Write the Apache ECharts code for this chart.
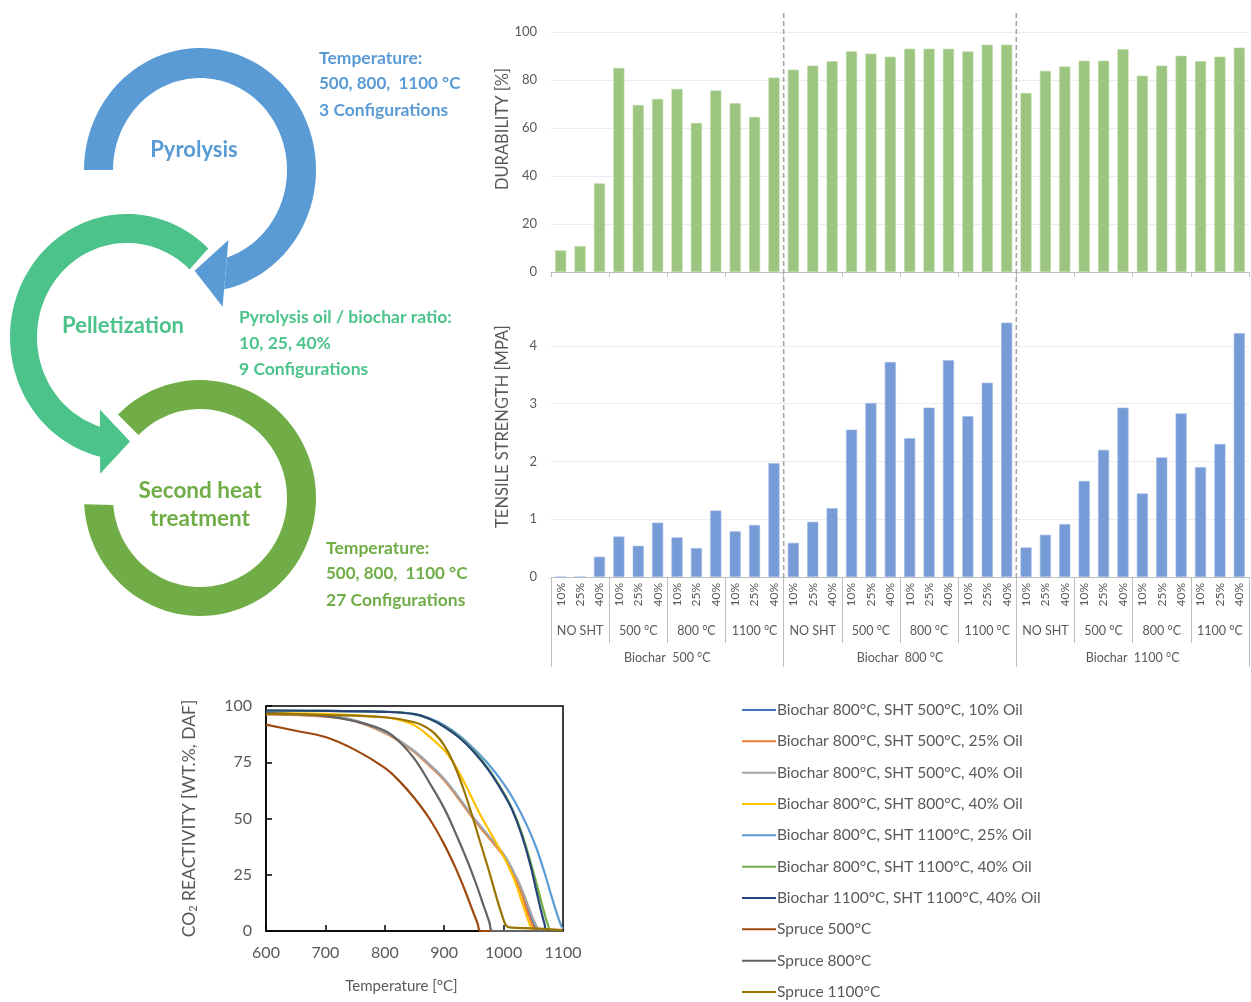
<!DOCTYPE html>
<html>
<head>
<meta charset="utf-8">
<script src="https://cdn.jsdelivr.net/npm/echarts@6/dist/echarts.min.js"></script>
<style>html,body{margin:0;padding:0;background:#fff}#c{width:1251px;height:1002px}</style>
</head>
<body>
<div id="c"></div>
<script>
// ---------- data ----------
const oilRatios = ['10%', '25%', '40%'];
const shtLabels = ['NO SHT', '500 °C', '800 °C', '1100 °C'];
const biocharLabels = ['Biochar  500 °C', 'Biochar  800 °C', 'Biochar  1100 °C'];

const durability = [9.0, 10.8, 36.9, 85.0, 69.6, 72.1, 76.3, 62.1, 75.6, 70.3, 64.6, 81.0,
  84.3, 86.0, 87.8, 91.9, 91.0, 89.7, 93.0, 93.0, 93.0, 91.9, 94.7, 94.7,
  74.6, 83.8, 85.6, 88.0, 88.0, 92.8, 81.8, 86.0, 90.1, 87.8, 89.7, 93.5];

const tensile = [0, 0, 0.35, 0.70, 0.54, 0.94, 0.685, 0.50, 1.15, 0.79, 0.90, 1.97,
  0.59, 0.955, 1.19, 2.55, 3.01, 3.72, 2.40, 2.93, 3.75, 2.78, 3.36, 4.40,
  0.51, 0.73, 0.915, 1.66, 2.20, 2.93, 1.445, 2.07, 2.83, 1.90, 2.30, 4.22];

const durabilityTicks = [0, 20, 40, 60, 80, 100];
const tensileTicks = [0, 1, 2, 3, 4];
const tempTicks = [600, 700, 800, 900, 1000, 1100];
const reactTicks = [0, 25, 50, 75, 100];

const lineNames = [
  'Biochar 800°C, SHT 500°C, 10% Oil',
  'Biochar 800°C, SHT 500°C, 25% Oil',
  'Biochar 800°C, SHT 500°C, 40% Oil',
  'Biochar 800°C, SHT 800°C, 40% Oil',
  'Biochar 800°C, SHT 1100°C, 25% Oil',
  'Biochar 800°C, SHT 1100°C, 40% Oil',
  'Biochar 1100°C, SHT 1100°C, 40% Oil',
  'Spruce 500°C',
  'Spruce 800°C',
  'Spruce 1100°C'
];
const lineColors = ['#4472C4', '#ED7D31', '#A5A5A5', '#FFC000', '#5B9BD5', '#70AD47', '#264478', '#9E480E', '#636363', '#997300'];

const bc800sht500oil10 = [[600,96.5],[700,95.5],[750,93.5],[800,88.3],[825,84.5],[850,79.8],[875,74],[900,67.5],[925,59],[950,50],[975,42],[1000,33.8],[1015,26.5],[1030,17.5],[1042,8.5],[1050,3.5],[1055,1],[1058,0],[1100,0]];
const bc800sht500oil25 = [[600,96.3],[700,95.3],[750,93.3],[800,88],[825,84.2],[850,79.5],[875,73.5],[900,67],[925,58.5],[950,49.5],[975,41.5],[1000,33.3],[1015,26],[1030,17],[1040,8.5],[1048,3],[1053,0.7],[1056,0],[1100,0]];
const bc800sht500oil40 = [[600,96.5],[700,95.5],[750,93.5],[800,88.3],[825,84.5],[850,79.8],[875,74],[900,67.5],[925,59.2],[950,50.2],[975,42.3],[1000,34.2],[1015,27.3],[1030,19],[1043,10],[1052,4],[1058,1],[1062,0],[1100,0]];
const bc800sht800oil40 = [[600,97],[700,96.5],[800,95],[825,93.8],[850,91.4],[875,86.5],[900,80.3],[915,75],[930,68],[945,60],[960,52],[975,45],[990,38],[1005,30.5],[1020,21.5],[1032,12],[1041,5],[1047,1],[1050,0],[1100,0]];
const bc800sht1100oil25 = [[600,98],[700,97.8],[800,97.4],[850,96.4],[875,94.5],[900,91.5],[925,87],[950,81],[975,74],[1000,65.5],[1020,57],[1040,46.5],[1055,37],[1070,25],[1080,16],[1090,7.5],[1096,3],[1100,1]];
const bc800sht1100oil40 = [[600,98],[700,97.8],[800,97.4],[850,96.4],[875,94.3],[900,91],[925,86.3],[950,80],[975,71.8],[1000,61.5],[1015,54],[1030,44],[1045,31],[1058,18.5],[1068,8.5],[1075,2.5],[1080,0],[1100,0]];
const bc1100sht1100oil40 = [[600,98],[700,97.8],[800,97.4],[850,96.4],[875,94.3],[900,90.8],[925,86],[950,79.6],[975,71.4],[1000,61],[1015,53.5],[1030,43],[1045,29.5],[1055,18],[1063,9],[1069,3],[1073,0],[1100,0]];
const spruce500 = [[600,91.7],[650,89],[700,86.2],[750,80.5],[800,72.5],[825,66.5],[850,59],[875,50],[900,38.5],[920,27.5],[935,18],[948,9],[956,3.5],[962,0],[1100,0]];
const spruce800 = [[600,97],[700,95.5],[750,93.2],[800,89],[825,84],[850,76.5],[875,66],[900,54.5],[920,43],[940,30.5],[955,20],[968,10],[976,4],[982,0],[1100,0]];
const spruce1100 = [[600,96.5],[700,96],[800,95],[850,92.8],[870,90.5],[885,87.5],[900,82.5],[915,75],[930,65],[945,53],[960,40],[975,27],[988,15],[998,6.5],[1004,2.5],[1010,1.6],[1050,1.2],[1100,0.4]];
const lineSeriesData = [bc800sht500oil10, bc800sht500oil25, bc800sht500oil40, bc800sht800oil40,
  bc800sht1100oil25, bc800sht1100oil40, bc1100sht1100oil40, spruce500, spruce800, spruce1100];

// ---------- derived categories ----------
const barCats = [];
const shtCats = [];
biocharLabels.forEach((b, i) => shtLabels.forEach((s, j) => {
  shtCats.push(s + '#' + i);
  oilRatios.forEach(o => barCats.push(o + '#' + i + '-' + j));
}));
const separators = [shtLabels.length * oilRatios.length, 2 * shtLabels.length * oilRatios.length];

// ---------- diagram geometry (elliptic block arcs) ----------
const D = Math.PI / 180;
function ellPt(cx, cy, rx, ry, t) { return [cx + rx * Math.cos(t), cy + ry * Math.sin(t)]; }
function bandPoints(g) {
  const pts = [], N = 90;
  for (let i = 0; i <= N; i++) pts.push(ellPt(g.cx, g.cy, g.rxo, g.ryo, g.a0 + (g.a1o - g.a0) * i / N));
  for (let i = N; i >= 0; i--) pts.push(ellPt(g.cx, g.cy, g.rxi, g.ryi, g.a0 + (g.a1i - g.a0) * i / N));
  return pts;
}
function arrowPoints(g) {
  const pi = ellPt(g.cx, g.cy, g.rxi, g.ryi, g.a1i), po = ellPt(g.cx, g.cy, g.rxo, g.ryo, g.a1o);
  const dx = po[0] - pi[0], dy = po[1] - pi[1], L = Math.hypot(dx, dy), ux = dx / L, uy = dy / L;
  const mx = (pi[0] + po[0]) / 2, my = (pi[1] + po[1]) / 2;
  const tx = g.cw ? -uy : uy, ty = g.cw ? ux : -ux;
  return [[pi[0] - ux * L * g.k, pi[1] - uy * L * g.k], [po[0] + ux * L * g.k, po[1] + uy * L * g.k], [mx + tx * g.len, my + ty * g.len]];
}
const cBlue = '#5B9BD5', cTeal = '#4CC38A', cGreen = '#70AD47';
const ringBlue = {cx: 200, cy: 170, rxo: 116, ryo: 122, rxi: 87, ryi: 92, a0: 180 * D, a1o: 438 * D, a1i: 432 * D, cw: true, k: 0.55, len: 31};
const ringTeal = {cx: 127, cy: 337, rxo: 117, ryo: 123, rxi: 90, ryi: 94, a0: -46 * D, a1o: -256.7 * D, a1i: -252.5 * D, cw: false, k: 0.57, len: 30};
const ringGreen = {cx: 200, cy: 498, rxo: 116, ryo: 118, rxi: 87, ryi: 89, a0: -135 * D, a1o: 177 * D, a1i: 175.5 * D, cw: true};
function poly(points, color) { return {type: 'polygon', shape: {points: points}, style: {fill: color}, silent: true}; }
function txt(t, x, y, color, size, align) {
  return {type: 'text', x: x, y: y, silent: true, style: {text: t, fill: color, font: 'bold ' + size + 'px Lato', textAlign: align || 'left', textVerticalAlign: 'middle'}};
}
const graphics = [
  poly(bandPoints(ringGreen), cGreen),
  poly(bandPoints(ringTeal), cTeal),
  poly(arrowPoints(ringTeal), cTeal),
  poly(bandPoints(ringBlue), cBlue),
  poly(arrowPoints(ringBlue), cBlue),
  txt('Pyrolysis', 194, 150, cBlue, 22, 'center'),
  txt('Pelletization', 123, 326, cTeal, 22, 'center'),
  txt('Second heat', 200, 491, cGreen, 22.5, 'center'),
  txt('treatment', 200, 519, cGreen, 22.5, 'center'),
  txt('Temperature:', 319, 58, cBlue, 17.5),
  txt('500, 800,  1100 °C', 319, 84, cBlue, 17),
  txt('3 Configurations', 319, 110, cBlue, 17.5),
  txt('Pyrolysis oil / biochar ratio:', 239, 317, cTeal, 17.5),
  txt('10, 25, 40%', 239, 343, cTeal, 17.5),
  txt('9 Configurations', 239, 369, cTeal, 17.5),
  txt('Temperature:', 326, 548, cGreen, 17.5),
  txt('500, 800,  1100 °C', 326, 574, cGreen, 17),
  txt('27 Configurations', 326, 600, cGreen, 17.5)
];

// ---------- chart ----------
const gray = '#595959';
const font = 'Lato';
const chart = echarts.init(document.getElementById('c'), null, {renderer: 'canvas'});
const stripHash = v => String(v).split('#')[0];

const option = {
  backgroundColor: '#fff',
  animation: false,
  textStyle: {fontFamily: font},
  graphic: graphics,
  grid: [
    {left: 551, width: 698, top: 32, height: 240},
    {left: 551, width: 698, top: 288, height: 289},
    {left: 266, width: 297, top: 706, height: 225, show: true, borderColor: '#000', borderWidth: 1.5},
    {left: 551, width: 698, top: 10, height: 568}
  ],
  legend: {
    data: lineNames, orient: 'vertical', left: 742, top: 701, height: 320, padding: 0,
    icon: 'rect', itemWidth: 34, itemHeight: 2, itemGap: 13.33,
    selectedMode: false, textStyle: {fontSize: 15.5, color: gray, fontFamily: font, lineHeight: 18, padding: [0, 0, 0, -4]}
  },
  xAxis: [
    {gridIndex: 0, type: 'category', data: barCats, axisLabel: {show: false},
      axisLine: {lineStyle: {color: '#BFBFBF'}}, axisTick: {show: true, interval: 2, length: 5, lineStyle: {color: '#BFBFBF'}}},
    {gridIndex: 1, type: 'category', data: barCats, position: 'bottom',
      axisLabel: {rotate: 90, fontSize: 12, color: gray, margin: 6, interval: 0, formatter: stripHash},
      axisLine: {lineStyle: {color: '#BFBFBF'}}, axisTick: {show: false}},
    {gridIndex: 1, type: 'category', data: shtCats, position: 'bottom',
      axisLabel: {fontSize: 12.5, color: gray, margin: 47, interval: 0, formatter: stripHash},
      axisLine: {show: false}, axisTick: {show: true, length: 66, interval: 0, lineStyle: {color: '#BFBFBF'}}},
    {gridIndex: 1, type: 'category', data: biocharLabels, position: 'bottom',
      axisLabel: {fontSize: 12.5, color: gray, margin: 74, interval: 0},
      axisLine: {show: false}, axisTick: {show: true, length: 90, interval: 0, lineStyle: {color: '#BFBFBF'}}},
    {gridIndex: 2, type: 'value', min: tempTicks[0], max: tempTicks[tempTicks.length - 1], interval: tempTicks[1] - tempTicks[0],
      name: 'Temperature [°C]', nameLocation: 'middle', nameGap: 48, nameMoveOverlap: false, nameTextStyle: {fontSize: 15, color: gray, padding: [0, 26, 0, 0]},
      axisLabel: {fontSize: 16, color: gray, margin: 14, formatter: v => String(v)},
      axisLine: {lineStyle: {color: '#000', width: 1.5}}, axisTick: {inside: true, length: 6, lineStyle: {color: '#000', width: 1.5}},
      splitLine: {show: false}},
    {gridIndex: 3, type: 'value', min: 0, max: 36, show: false}
  ],
  yAxis: [
    {gridIndex: 0, type: 'value', min: durabilityTicks[0], max: durabilityTicks[durabilityTicks.length - 1], interval: durabilityTicks[1] - durabilityTicks[0],
      name: 'DURABILITY [%]', nameLocation: 'middle', nameGap: 40, nameMoveOverlap: false, nameTextStyle: {fontSize: 16.5, color: gray, padding: [0, 0, 0, 46]},
      axisLabel: {fontSize: 13, color: gray, margin: 14}, axisLine: {show: false}, axisTick: {show: false},
      splitLine: {lineStyle: {color: '#ECECEC'}}},
    {gridIndex: 1, type: 'value', min: 0, max: 5, interval: tensileTicks[1] - tensileTicks[0],
      name: 'TENSILE STRENGTH [MPA]', nameLocation: 'middle', nameGap: 40, nameMoveOverlap: false, nameTextStyle: {fontSize: 16.5, color: gray, padding: [0, 0, 0, 12]},
      axisLabel: {fontSize: 13, color: gray, margin: 14, showMaxLabel: false}, axisLine: {show: false}, axisTick: {show: false},
      splitLine: {showMaxLine: false, showMinLine: false, lineStyle: {color: '#ECECEC'}}},
    {gridIndex: 2, type: 'value', min: reactTicks[0], max: reactTicks[reactTicks.length - 1], interval: reactTicks[1] - reactTicks[0],
      name: '{a|CO}{s|2}{a| REACTIVITY [WT.%, DAF]}', nameLocation: 'middle', nameGap: 67, nameMoveOverlap: false,
      nameTextStyle: {rich: {a: {fontSize: 17.5, color: gray, fontFamily: font}, s: {fontSize: 11, color: gray, fontFamily: font, verticalAlign: 'bottom', padding: [8, 0, 0, 0]}}},
      axisLabel: {fontSize: 16, color: gray, margin: 14},
      axisLine: {lineStyle: {color: '#000', width: 1.5}}, axisTick: {inside: true, length: 6, lineStyle: {color: '#000', width: 1.5}},
      splitLine: {show: false}},
    {gridIndex: 3, type: 'value', min: 0, max: 1, show: false}
  ],
  series: [
    {type: 'bar', xAxisIndex: 0, yAxisIndex: 0, data: durability, barWidth: '57%',
      itemStyle: {color: '#9CC67F', borderColor: '#B9D8A5', borderWidth: 0.6}, silent: true},
    {type: 'bar', xAxisIndex: 1, yAxisIndex: 1, data: tensile, barWidth: '57%',
      itemStyle: {color: '#779BD6', borderColor: '#9DB8E4', borderWidth: 0.6}, silent: true}
  ].concat(separators.map(s => ({
    type: 'line', xAxisIndex: 5, yAxisIndex: 3, data: [[s, 0], [s, 1]], symbol: 'none', silent: true,
    lineStyle: {color: '#A6A6A6', width: 1.6, type: [5, 3]}
  }))).concat(lineSeriesData.map((d, i) => ({
    type: 'line', name: lineNames[i], xAxisIndex: 4, yAxisIndex: 2, data: d, symbol: 'none', showSymbol: false,
    smooth: 0.4, color: lineColors[i], lineStyle: {width: 2.2, color: lineColors[i]}, silent: true, z: 3
  })))
};
chart.setOption(option);
</script>
</body>
</html>
